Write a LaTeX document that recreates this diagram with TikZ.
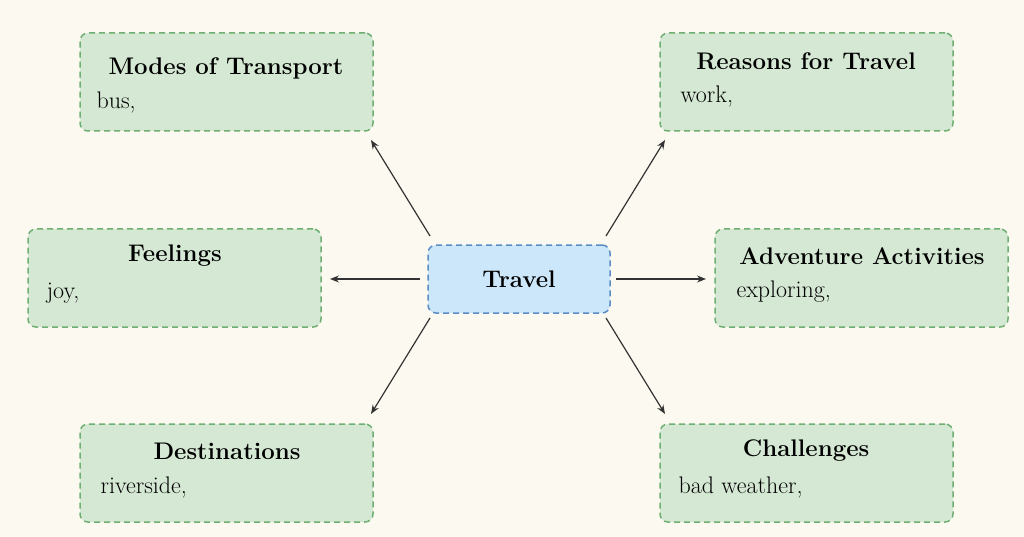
\documentclass[tikz,border=0pt]{standalone}
\usepackage{tikz}
\usetikzlibrary{positioning,arrows.meta}

\definecolor{bgcol}{HTML}{FCFAF0}
\definecolor{boxfill}{HTML}{D5E8D4}
\definecolor{boxline}{HTML}{6FAF73}
\definecolor{hubfill}{HTML}{CDE7FA}
\definecolor{hubline}{HTML}{5B8DC4}

\tikzset{
	topic/.style={draw=boxline, fill=boxfill, dash pattern=on 6pt off 4pt, line width=1.5pt,
		rounded corners=8pt, minimum width=293pt, minimum height=98pt},
	hub/.style={draw=hubline, fill=hubfill, dash pattern=on 6pt off 4pt, line width=1.5pt,
		rounded corners=8pt, minimum width=182pt, minimum height=68pt,
		font=\fontsize{24}{28}\selectfont\bfseries},
	title/.style={font=\fontsize{24}{28}\selectfont\bfseries},
	item/.style={anchor=west, font=\fontsize{24}{28}\selectfont},
	link/.style={-{Stealth[length=9pt,width=7pt]}, line width=1.2pt, draw=black!80},
}

\begin{document}
\begin{tikzpicture}[x=1pt,y=-1pt]

	% ---- background

	\fill[bgcol] (0,0) rectangle (1024,537);
	\useasboundingbox (0,0) rectangle (1024,537);

	% ---- centre

	\node[hub] (travel) at (519,279) {Travel};

	% ---- topics

	\node[topic] (modes) at (226.5,82) {};
	\node[title] at (226,68) {Modes of Transport};
	\node[item] at (93,103) {bus,};

	\node[topic] (reasons) at (806.5,82) {};
	\node[title] at (806,61) {Reasons for Travel};
	\node[item] at (677,97) {work,};

	\node[topic] (feelings) at (174.5,278) {};
	\node[title] at (175,256) {Feelings};
	\node[item] at (43,293) {joy,};

	\node[topic] (adventure) at (861.5,278) {};
	\node[title] at (862,256) {Adventure Activities};
	\node[item] at (733,292) {exploring,};

	\node[topic] (destinations) at (226.5,473) {};
	\node[title] at (227,451) {Destinations};
	\node[item] at (97,487) {riverside,};

	\node[topic] (challenges) at (806.5,473) {};
	\node[title] at (806,451) {Challenges};
	\node[item] at (675,487) {bad weather,};

	% ---- arrow ends

	\coordinate (tNW) at (430,236);
	\coordinate (tNE) at (606,236);
	\coordinate (tW) at (420,279);
	\coordinate (tE) at (616,279);
	\coordinate (tSW) at (430,318);
	\coordinate (tSE) at (606,318);

	\coordinate (hModes) at (371,140);
	\coordinate (hReasons) at (665,140);
	\coordinate (hFeelings) at (330,279);
	\coordinate (hAdventure) at (706,279);
	\coordinate (hDestinations) at (371,414);
	\coordinate (hChallenges) at (665,414);

	% ---- links

	\draw[link] (tNW) -- (hModes);
	\draw[link] (tNE) -- (hReasons);
	\draw[link] (tW) -- (hFeelings);
	\draw[link] (tE) -- (hAdventure);
	\draw[link] (tSW) -- (hDestinations);
	\draw[link] (tSE) -- (hChallenges);

\end{tikzpicture}
\end{document}
